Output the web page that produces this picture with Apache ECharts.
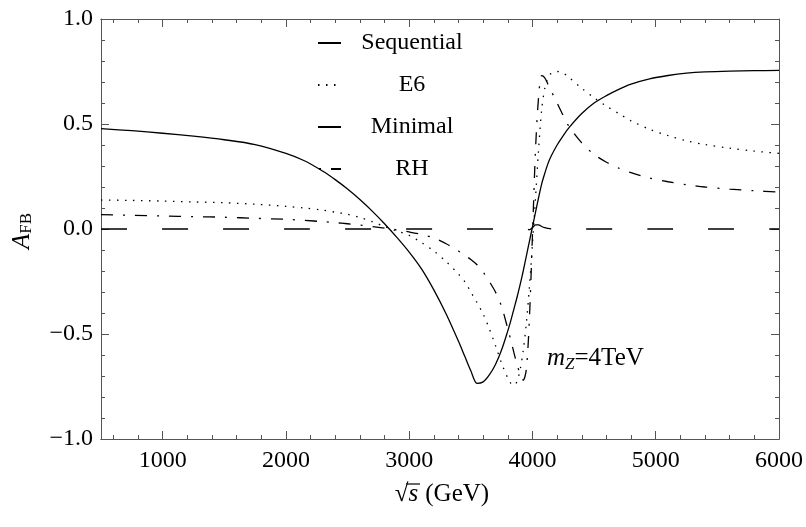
<!DOCTYPE html>
<html>
<head>
<meta charset="utf-8">
<script src="https://cdn.jsdelivr.net/npm/echarts@6/dist/echarts.min.js"></script>
<style>
  html, body { margin: 0; padding: 0; background: #fff; }
  #main { width: 806px; height: 527px; }
</style>
</head>
<body>
<div id="main"></div>
<script>
var chartDom = document.getElementById('main');
var myChart = echarts.init(chartDom);
var option;

// sqrt(s) in GeV
var sVals = [500, 750, 1000, 1250, 1500, 1750, 2000, 2150, 2300, 2400, 2500, 2600, 2700, 2800, 2900,
  3000, 3100, 3200, 3300, 3400, 3450, 3500, 3550, 3600, 3650, 3700, 3750, 3800, 3825, 3850,
  3875, 3900, 3925, 3950, 3975, 4000, 4025, 4050, 4075, 4100, 4125, 4150, 4200, 4250, 4300,
  4400, 4500, 4600, 4700, 4800, 4950, 5100, 5250, 5400, 5600, 5800, 6000];

var seqA = [0.478, 0.468, 0.456, 0.442, 0.425, 0.402, 0.36, 0.325, 0.275, 0.235, 0.19, 0.14, 0.085, 0.025, -0.04,
  -0.11, -0.19, -0.29, -0.405, -0.535, -0.605, -0.675, -0.735, -0.728, -0.695, -0.645, -0.575, -0.485, -0.435, -0.38,
  -0.325, -0.265, -0.2, -0.13, -0.06, 0.01, 0.08, 0.15, 0.215, 0.265, 0.31, 0.345, 0.4, 0.445, 0.485,
  0.55, 0.6, 0.635, 0.665, 0.69, 0.715, 0.731, 0.742, 0.748, 0.752, 0.754, 0.755];

var e6A = [0.138, 0.136, 0.133, 0.129, 0.125, 0.118, 0.108, 0.1, 0.09, 0.08, 0.07, 0.055, 0.035, 0.012, -0.01,
  -0.03, -0.065, -0.105, -0.155, -0.215, -0.25, -0.3, -0.35, -0.405, -0.475, -0.555, -0.64, -0.71, -0.735, -0.745,
  -0.725, -0.67, -0.58, -0.45, -0.28, -0.07, 0.15, 0.38, 0.57, 0.67, 0.72, 0.74, 0.75, 0.742, 0.72,
  0.67, 0.625, 0.585, 0.55, 0.515, 0.475, 0.445, 0.42, 0.402, 0.385, 0.371, 0.36];

var minimalA = [0, 0, 0, 0, 0, 0, 0, 0, 0, 0, 0, 0, 0, 0, 0,
  0, 0, 0, 0, 0, 0, 0, 0, 0, 0, 0, 0, 0, 0, 0,
  0, 0, 0, 0, -0.004, 0.006, 0.02, 0.02, 0.012, 0.006, 0.003, 0.001, 0, 0, 0,
  0, 0, 0, 0, 0, 0, 0, 0, 0, 0, 0, 0];

var rhA = [0.068, 0.065, 0.062, 0.059, 0.056, 0.051, 0.046, 0.041, 0.035, 0.03, 0.025, 0.019, 0.012, 0.004, -0.004,
  -0.014, -0.026, -0.043, -0.07, -0.105, -0.125, -0.145, -0.17, -0.205, -0.25, -0.3, -0.37, -0.475, -0.53, -0.59,
  -0.645, -0.69, -0.72, -0.67, -0.43, -0.03, 0.38, 0.63, 0.73, 0.72, 0.69, 0.66, 0.6, 0.54, 0.485,
  0.41, 0.355, 0.318, 0.29, 0.268, 0.243, 0.225, 0.211, 0.2, 0.19, 0.182, 0.176];

var xMajor = [1000, 2000, 3000, 4000, 5000, 6000];
var xMinor = [600, 800, 1200, 1400, 1600, 1800, 2200, 2400, 2600, 2800, 3200, 3400, 3600, 3800,
  4200, 4400, 4600, 4800, 5200, 5400, 5600, 5800];
var yTicks = [-1.0, -0.5, 0.0, 0.5, 1.0];

var font = 'Liberation Serif';
var frame = '#555';

function pairs(ys) {
  return sVals.map(function (s, i) { return [s, ys[i]]; });
}

function xAx(pos, ticks, len, labels) {
  return {
    type: 'value', position: pos, min: 500, max: 6000,
    axisLine: { show: true, onZero: false, lineStyle: { color: frame, width: 1 } },
    axisTick: { show: true, inside: true, length: len, customValues: ticks, lineStyle: { color: frame } },
    axisLabel: labels ? {
      show: true, customValues: ticks, margin: 10,
      fontFamily: font, fontSize: 24, color: '#000',
      formatter: function (v) { return String(v); }
    } : { show: false },
    splitLine: { show: false }
  };
}

function yAx(pos, labels) {
  return {
    type: 'value', position: pos, min: -1, max: 1, interval: 0.5,
    axisLine: { show: true, onZero: false, lineStyle: { color: frame, width: 1 } },
    axisTick: { show: true, inside: true, length: 8, lineStyle: { color: frame } },
    minorTick: { show: true, splitNumber: 5, length: 4, lineStyle: { color: frame } },
    axisLabel: labels ? {
      show: true, margin: 8, fontFamily: font, fontSize: 24, color: '#000',
      formatter: function (v) {
        var t = yTicks.filter(function (k) { return Math.abs(k - v) < 1e-9; })[0];
        if (t === undefined) return '';
        return (t < 0 ? '\u2212' : '') + Math.abs(t).toFixed(1);
      }
    } : { show: false },
    splitLine: { show: false },
    minorSplitLine: { show: false }
  };
}

function lineSeries(name, ys, type) {
  return {
    name: name, type: 'line', data: pairs(ys),
    xAxisIndex: 0, yAxisIndex: 0,
    symbol: 'none', smooth: 0.3,
    lineStyle: { color: '#000', width: 1.3, type: type },
    itemStyle: { color: '#000' },
    emphasis: { disabled: true },
    z: 3
  };
}

option = {
  animation: false,
  backgroundColor: '#fff',
  grid: { left: 101, right: 25, top: 19, bottom: 88 },
  xAxis: [
    xAx('bottom', xMajor, 8, true),
    xAx('bottom', xMinor, 4, false),
    xAx('top', xMajor, 8, false),
    xAx('top', xMinor, 4, false)
  ],
  yAxis: [
    yAx('left', true),
    yAx('right', false)
  ],
  legend: {
    orient: 'vertical', left: 312, top: 26,
    itemWidth: 23, itemHeight: 14, itemGap: 18,
    selectedMode: false,
    itemStyle: { color: 'rgba(0,0,0,0)', borderWidth: 0, opacity: 0 },
    data: ['Sequential', 'E6', 'Minimal', { name: 'RH', lineStyle: { dashOffset: 21 } }],
    formatter: function (n) { return '{c|' + n + '}'; },
    textStyle: {
      fontFamily: font, fontSize: 24, color: '#000',
      rich: { c: { width: 132, align: 'center', fontFamily: font, fontSize: 24, color: '#000', lineHeight: 24 } }
    }
  },
  graphic: [
    {
      type: 'text', x: 22, y: 231, rotation: Math.PI / 2,
      style: {
        text: '{a|A}{b|FB}', align: 'center', verticalAlign: 'middle',
        rich: {
          a: { fontFamily: font, fontSize: 25, fontStyle: 'italic', fill: '#000', lineHeight: 30, verticalAlign: 'middle' },
          b: { fontFamily: font, fontSize: 17, fill: '#000', lineHeight: 30, verticalAlign: 'bottom', padding: [0, 0, 2, 0] }
        }
      }
    },
    {
      type: 'text', x: 442, y: 494,
      style: {
        text: '{r|\u221A}{s|s}{g|(GeV)}', align: 'center', verticalAlign: 'middle',
        rich: {
          r: { fontFamily: font, fontSize: 25, fill: '#000' },
          s: { fontFamily: font, fontSize: 25, fontStyle: 'italic', fill: '#000', padding: [0, 7, 0, 0] },
          g: { fontFamily: font, fontSize: 25, fill: '#000' }
        }
      }
    },
    {
      type: 'line', shape: { x1: 406, y1: 484, x2: 420, y2: 484 },
      style: { stroke: '#000', lineWidth: 1.2 }
    },
    {
      type: 'text', x: 547, y: 358,
      style: {
        text: '{m|m}{z|Z}{t|=4TeV}', align: 'left', verticalAlign: 'middle',
        rich: {
          m: { fontFamily: font, fontSize: 25, fontStyle: 'italic', fill: '#000', lineHeight: 30 },
          z: { fontFamily: font, fontSize: 17, fontStyle: 'italic', fill: '#000', lineHeight: 30, verticalAlign: 'bottom' },
          t: { fontFamily: font, fontSize: 25, fill: '#000', lineHeight: 30 }
        }
      }
    }
  ],
  series: [
    lineSeries('Sequential', seqA, 'solid'),
    lineSeries('E6', e6A, [1.5, 6.5]),
    lineSeries('Minimal', minimalA, [26, 35]),
    lineSeries('RH', rhA, [12, 10, 2, 10])
  ]
};

option && myChart.setOption(option);
</script>
</body>
</html>
